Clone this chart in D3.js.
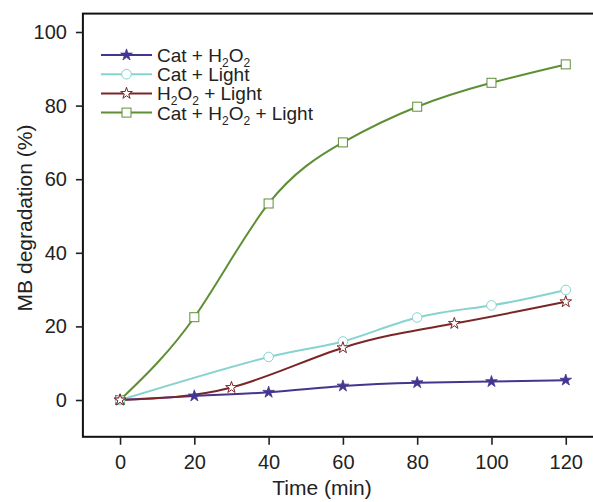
<!DOCTYPE html>
<html>
<head>
<meta charset="utf-8">
<script src="https://cdn.jsdelivr.net/npm/d3@7"></script>
<style>
  html, body { margin: 0; padding: 0; background: #fff; }
  svg { display: block; font-family: Arial, "Liberation Sans", sans-serif; }
</style>
</head>
<body>
<svg id="chart" width="593" height="502"></svg>
<script>
// Sampling times (min) and MB degradation (%) for each condition
const timesCatH2O2 = [0, 20, 40, 60, 80, 100, 120];
const valsCatH2O2 = [0, 1.1, 2.1, 3.8, 4.7, 5.0, 5.4];

const timesCatLight = [0, 40, 60, 80, 100, 120];
const valsCatLight = [0, 11.7, 15.9, 22.4, 25.7, 29.9];

const timesH2O2Light = [0, 30, 60, 90, 120];
const valsH2O2Light = [0, 3.4, 14.2, 20.8, 26.7];

const timesAll = [0, 20, 40, 60, 80, 100, 120];
const valsAll = [0, 22.5, 53.4, 70.0, 79.7, 86.2, 91.2];

const xTicks = [0, 20, 40, 60, 80, 100, 120];
const yTicks = [0, 20, 40, 60, 80, 100];

const series = [
  { key: "all", times: timesAll, vals: valsAll, color: "#5e8f35", marker: "square",
    label: [["Cat + H", 0], ["2", 1], ["O", 0], ["2", 1], [" + Light", 0]] },
  { key: "catLight", times: timesCatLight, vals: valsCatLight, color: "#86d3cf", marker: "circle",
    label: [["Cat + Light", 0]] },
  { key: "catH2O2", times: timesCatH2O2, vals: valsCatH2O2, color: "#45358f", marker: "starFilled",
    label: [["Cat + H", 0], ["2", 1], ["O", 0], ["2", 1]] },
  { key: "h2o2Light", times: timesH2O2Light, vals: valsH2O2Light, color: "#7b2626", marker: "starOpen",
    label: [["H", 0], ["2", 1], ["O", 0], ["2", 1], [" + Light", 0]] }
];
const legendOrder = ["catH2O2", "catLight", "h2o2Light", "all"];

const svg = d3.select("#chart");
const x = d3.scaleLinear().domain([-10, 130]).range([82.9, 602.9]);
const y = d3.scaleLinear().domain([-10, 105]).range([436.8, 13.6]);

// Frame
svg.append("rect")
  .attr("x", x(-10)).attr("y", y(105))
  .attr("width", x(130) - x(-10)).attr("height", y(-10) - y(105))
  .attr("fill", "none").attr("stroke", "#111").attr("stroke-width", 2);

// Axes
const xAxis = svg.append("g")
  .attr("transform", `translate(0,${y(-10)})`)
  .call(d3.axisBottom(x).tickValues(xTicks).tickSize(8).tickPadding(10));
const yAxis = svg.append("g")
  .attr("transform", `translate(${x(-10)},0)`)
  .call(d3.axisLeft(y).tickValues(yTicks).tickSize(7).tickPadding(9));
[xAxis, yAxis].forEach(a => {
  a.select(".domain").remove();
  a.selectAll(".tick line").attr("stroke", "#222").attr("stroke-width", 1.6);
  a.selectAll(".tick text").attr("fill", "#222").style("font-size", "20px")
    .style("font-family", "Arial, 'Liberation Sans', sans-serif");
});

// Axis titles
svg.append("text")
  .attr("x", 322).attr("y", 495)
  .attr("text-anchor", "middle").attr("fill", "#222")
  .style("font-size", "21px").text("Time (min)");
svg.append("text")
  .attr("transform", `translate(32,${218}) rotate(-90)`)
  .attr("text-anchor", "middle").attr("fill", "#222")
  .style("font-size", "21px").text("MB degradation (%)");

// Marker drawing
const starPath = d3.symbol().type(d3.symbolStar);
function drawMarker(g, type, color, cx, cy) {
  if (type === "square") {
    g.append("rect").attr("x", cx - 4.5).attr("y", cy - 4.5)
      .attr("width", 9).attr("height", 9)
      .attr("fill", "#fff").attr("stroke", color).attr("stroke-width", 1);
  } else if (type === "circle") {
    g.append("circle").attr("cx", cx).attr("cy", cy).attr("r", 4.8)
      .attr("fill", "#fff").attr("stroke", color).attr("stroke-width", 1);
  } else if (type === "starFilled") {
    g.append("path").attr("d", starPath.size(42)())
      .attr("transform", `translate(${cx},${cy})`)
      .attr("fill", color).attr("stroke", color).attr("stroke-width", 0.8);
  } else {
    g.append("path").attr("d", starPath.size(42)())
      .attr("transform", `translate(${cx},${cy})`)
      .attr("fill", "#fff").attr("stroke", color).attr("stroke-width", 1);
  }
}

// Smooth spline curves through the measured points, then markers on top
const line = d3.line().curve(d3.curveNatural)
  .x(d => x(d[0])).y(d => y(d[1]));
const plot = svg.append("g");
series.forEach(s => {
  const pts = s.times.map((t, i) => [t, s.vals[i]]);
  plot.append("path").datum(pts)
    .attr("d", line).attr("fill", "none")
    .attr("stroke", s.color).attr("stroke-width", 2);
});
series.forEach(s => {
  const g = plot.append("g");
  s.times.forEach((t, i) => drawMarker(g, s.marker, s.color, x(t), y(s.vals[i])));
});

// Legend
const legend = svg.append("g");
legendOrder.forEach((k, i) => {
  const s = series.find(d => d.key === k);
  const cy = 55 + i * 19.2;
  legend.append("line").attr("x1", 101).attr("x2", 152)
    .attr("y1", cy).attr("y2", cy)
    .attr("stroke", s.color).attr("stroke-width", 2);
  drawMarker(legend, s.marker, s.color, 126.5, cy);
  const t = legend.append("text").attr("x", 157).attr("y", cy + 7)
    .attr("fill", "#222").style("font-size", "19px");
  s.label.forEach(([str, sub]) => {
    const ts = t.append("tspan").text(str);
    if (sub) ts.style("font-size", "12px").attr("baseline-shift", "-5");
  });
});
</script>
</body>
</html>
